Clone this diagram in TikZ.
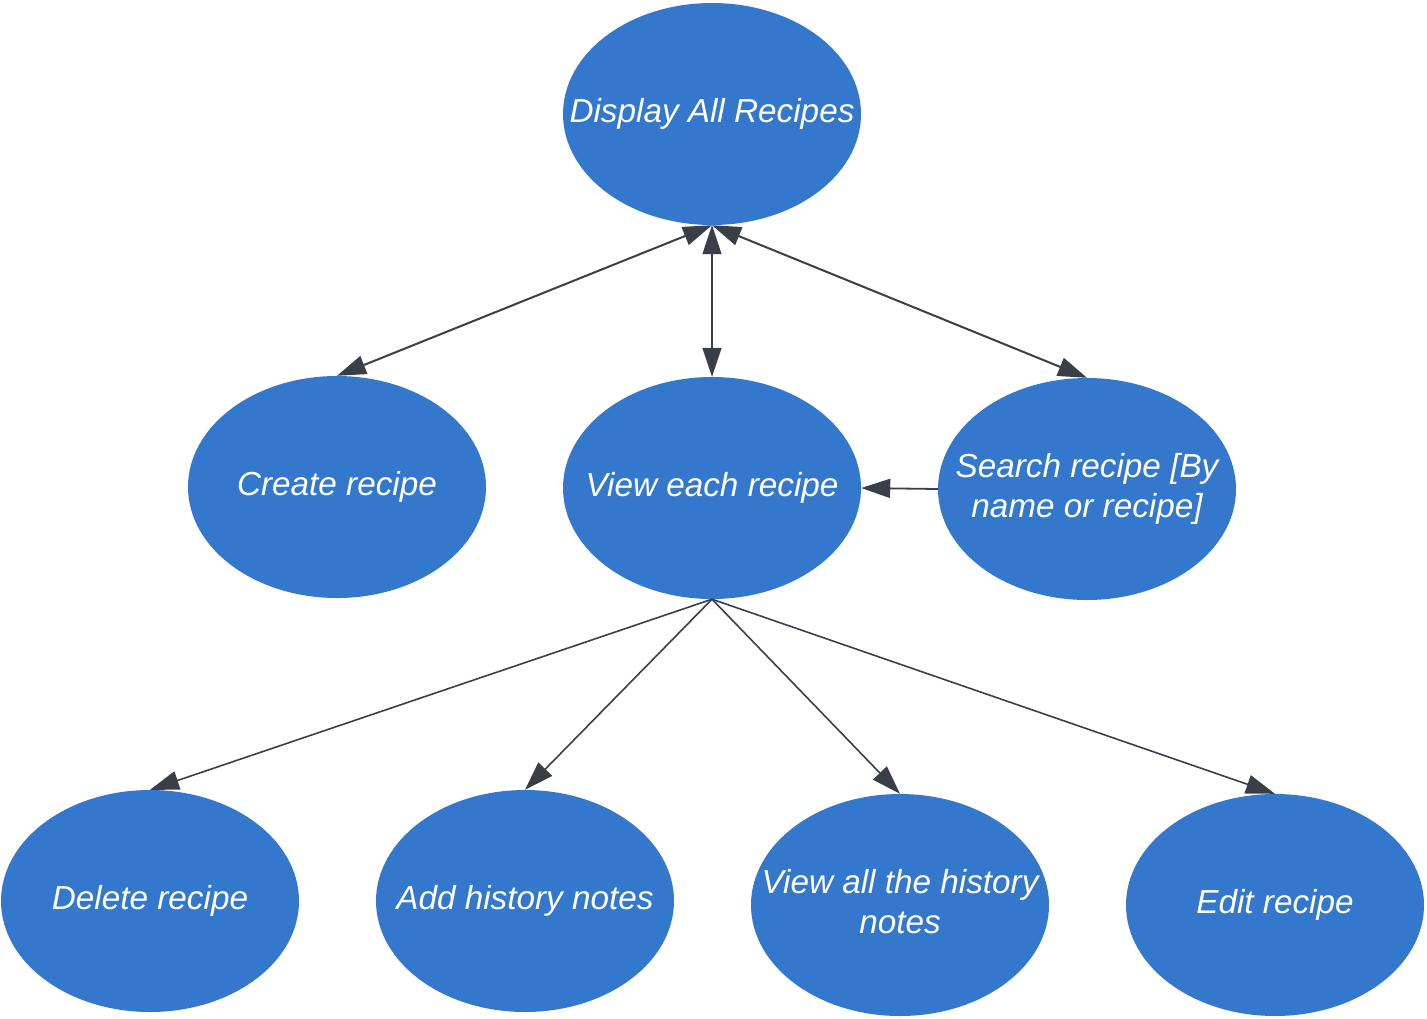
\documentclass[tikz,border=0pt]{standalone}
\usepackage{fontspec}
\setmainfont{Liberation Sans}
\usetikzlibrary{shapes.geometric,arrows.meta}
\definecolor{nodeblue}{HTML}{3378CC}
\definecolor{linegray}{HTML}{3A3F47}
\newcommand\uctext[1]{\makebox[0pt]{\raisebox{3pt}{\begin{tabular}{@{}c@{}}#1\end{tabular}}}}
\tikzset{
  usecase/.style={ellipse, fill=nodeblue, draw=none, minimum width=298pt, minimum height=222pt,
    inner sep=0pt, text=white, font=\fontsize{33.3}{40}\selectfont\itshape},
  link/.style={draw=linegray, line width=1.8pt, -{Triangle[length=29pt,width=19pt]}},
  dlink/.style={draw=linegray, line width=2pt, {Triangle[length=29pt,width=19pt]}-{Triangle[length=29pt,width=19pt]}},
}
\begin{document}
\begin{tikzpicture}[x=1pt,y=-1pt]
\useasboundingbox (0,0) rectangle (1427,1018);
\node[usecase] (disp) at (712,114) {\uctext{Display All Recipes}};
\node[usecase] (create) at (337,487) {\uctext{Create recipe}};
\node[usecase] (view) at (712,488) {\uctext{View each recipe}};
\node[usecase] (search) at (1087,489) {\uctext{Search recipe [By\\name or recipe]}};
\node[usecase] (del) at (150,901) {\uctext{Delete recipe}};
\node[usecase] (add) at (525,901) {\uctext{Add history notes}};
\node[usecase] (viewall) at (900,905) {\uctext{View all the history\\notes}};
\node[usecase] (edit) at (1275,905) {\uctext{Edit recipe}};

\draw[dlink] (disp.south) -- (create.north);
\draw[dlink, line width=1.5pt] (disp.south) -- (view.north);
\draw[dlink] (disp.south) -- (search.north);
\draw[link] (search.west) -- (view.east);
\draw[link, line width=1.6pt] (view.south) -- (del.north);
\draw[link, line width=1.6pt] (view.south) -- (add.north);
\draw[link, line width=1.6pt] (view.south) -- (viewall.north);
\draw[link, line width=1.6pt] (view.south) -- (edit.north);
\end{tikzpicture}
\end{document}
